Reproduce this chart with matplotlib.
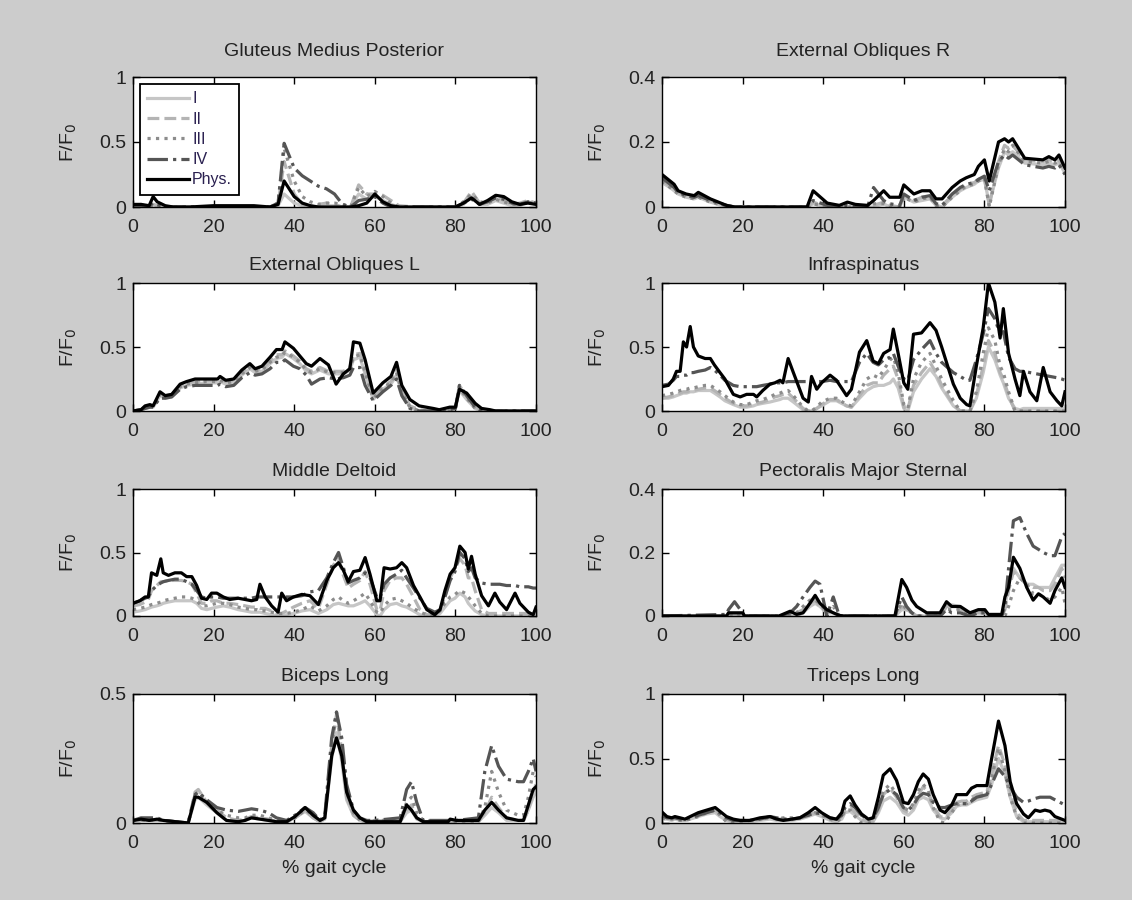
import matplotlib
matplotlib.use('Agg')
import matplotlib.pyplot as plt

plt.rcParams['font.family'] = ['Liberation Sans', 'DejaVu Sans']

# ---- Gluteus Medius Posterior ----
glut_x = [0, 2, 4, 5, 6, 8, 10, 14, 20, 24, 30, 34, 36, 37.5, 40, 42, 44, 46, 48, 50,
          52, 54, 56, 58, 60, 62, 64, 66, 70, 80, 82, 84, 86, 88, 90, 92, 94, 96, 98, 100]
glut_phys = [0.02, 0.02, 0.01, 0.08, 0.04, 0.01, 0, 0, 0.01, 0.01, 0.01, 0, 0.02, 0.2, 0.08, 0.03, 0.01, 0, 0, 0,
             0, 0, 0.01, 0.03, 0.1, 0.04, 0.01, 0, 0, 0, 0.03, 0.07, 0.02, 0.05, 0.09, 0.08, 0.04, 0.02, 0.03, 0.02]
glut_iv = [0.01, 0.01, 0.01, 0.03, 0.02, 0, 0, 0, 0, 0, 0, 0, 0.03, 0.49, 0.3, 0.24, 0.2, 0.16, 0.14, 0.1,
           0.02, 0, 0.05, 0.06, 0.08, 0.03, 0, 0, 0, 0, 0.03, 0.06, 0.02, 0.04, 0.07, 0.06, 0.03, 0.02, 0.04, 0.03]
glut_iii = [0.01, 0.01, 0, 0.02, 0.01, 0, 0, 0, 0, 0, 0, 0, 0.03, 0.45, 0.2, 0.08, 0.04, 0.02, 0.03, 0.03,
            0.02, 0, 0.15, 0.08, 0.12, 0.08, 0.03, 0, 0, 0, 0.04, 0.1, 0.04, 0.03, 0.06, 0.04, 0.02, 0.02, 0.04, 0.02]
glut_ii = [0.01, 0.02, 0, 0.02, 0.01, 0, 0, 0, 0, 0, 0, 0, 0.02, 0.35, 0.1, 0.02, 0, 0.02, 0.03, 0.02,
           0, 0, 0.17, 0.1, 0.1, 0.09, 0.05, 0.01, 0, 0, 0.03, 0.12, 0.03, 0.04, 0.08, 0.05, 0.02, 0.03, 0.05, 0.03]
glut_i = [0.01, 0.01, 0, 0.02, 0.01, 0, 0, 0, 0, 0, 0, 0, 0.01, 0.1, 0.03, 0.01, 0, 0, 0.01, 0.01,
          0, 0, 0.1, 0.06, 0.08, 0.05, 0.02, 0, 0, 0, 0.02, 0.08, 0.02, 0.02, 0.05, 0.03, 0.01, 0.01, 0.04, 0.02]

# ---- External Obliques R ----
eor_x = [0, 2, 3, 4, 6, 8, 9, 12, 16, 18, 36, 37.5, 41, 44, 46, 48, 51, 52.5, 55, 56.5,
         59, 60, 62.5, 64.5, 66.5, 68, 69.5, 72, 74, 75.5, 77.5, 78.5, 80, 81.2, 83.5, 85, 86, 87, 90, 94.5,
         96, 97.5, 98.5, 100]
eor_phys = [0.1, 0.08, 0.07, 0.05, 0.04, 0.035, 0.045, 0.025, 0.005, 0, 0, 0.05, 0.012, 0.005, 0.015, 0.008, 0.005, 0.02, 0.05, 0.03,
            0.03, 0.068, 0.04, 0.05, 0.05, 0.025, 0.025, 0.06, 0.08, 0.09, 0.1, 0.125, 0.145, 0.08, 0.2, 0.21, 0.2, 0.21, 0.15, 0.145,
            0.155, 0.145, 0.16, 0.12]
eor_iv = [0.09, 0.07, 0.06, 0.045, 0.035, 0.03, 0.035, 0.02, 0.005, 0, 0, 0.02, 0.005, 0, 0.005, 0, 0, 0.06, 0.02, 0.01,
          0.005, 0.04, 0.02, 0.03, 0.035, 0.01, 0.005, 0.04, 0.06, 0.07, 0.075, 0.085, 0.095, 0.05, 0.14, 0.16, 0.15, 0.16, 0.13, 0.12,
          0.125, 0.12, 0.13, 0.1]
eor_iii = [0.08, 0.06, 0.05, 0.04, 0.03, 0.025, 0.03, 0.015, 0.003, 0, 0, 0.01, 0, 0, 0, 0, 0, 0.01, 0.01, 0,
           0, 0.03, 0.015, 0.025, 0.03, 0.005, 0, 0.03, 0.05, 0.065, 0.07, 0.08, 0.09, 0, 0.13, 0.18, 0.17, 0.19, 0.14, 0.135,
           0.14, 0.135, 0.14, 0.11]
eor_ii = [0.08, 0.065, 0.055, 0.045, 0.035, 0.03, 0.035, 0.02, 0.005, 0, 0, 0.015, 0, 0, 0, 0, 0, 0.005, 0.015, 0.005,
          0, 0.035, 0.02, 0.03, 0.03, 0.01, 0.005, 0.035, 0.055, 0.07, 0.075, 0.085, 0.09, 0.005, 0.14, 0.19, 0.18, 0.19, 0.145, 0.14,
          0.145, 0.14, 0.145, 0.11]
eor_i = [0.075, 0.06, 0.05, 0.04, 0.03, 0.025, 0.03, 0.015, 0, 0, 0, 0.01, 0, 0, 0, 0, 0, 0, 0.01, 0,
         0, 0.03, 0.015, 0.02, 0.025, 0.005, 0, 0.03, 0.05, 0.06, 0.07, 0.08, 0.085, 0.01, 0.12, 0.17, 0.16, 0.17, 0.135, 0.13,
         0.135, 0.13, 0.135, 0.105]

# ---- External Obliques L ----
eol_x = [0, 2, 3, 4.2, 5, 6.7, 8, 9.6, 11.7, 13.3, 15.4, 18, 21, 21.6, 23, 25, 27, 29, 30.3, 32,
         34, 35.6, 37, 37.7, 39.8, 41.4, 43, 44.3, 46.4, 48.5, 50.4, 52.2, 53.8, 54.7, 56.3, 57.6, 59.6, 62, 64, 65.4,
         66.7, 68.7, 71, 74.5, 76, 78.6, 80, 81, 82.8, 84.9, 86.5, 88.6, 90, 100]
eol_phys = [0, 0.01, 0.04, 0.05, 0.04, 0.15, 0.12, 0.13, 0.21, 0.23, 0.25, 0.25, 0.25, 0.27, 0.24, 0.25, 0.32, 0.37, 0.33, 0.35,
            0.42, 0.48, 0.48, 0.54, 0.49, 0.43, 0.37, 0.35, 0.41, 0.36, 0.21, 0.29, 0.33, 0.54, 0.53, 0.4, 0.14, 0.22, 0.27, 0.38,
            0.2, 0.09, 0.04, 0.02, 0.01, 0.03, 0.03, 0.17, 0.14, 0.06, 0.02, 0.01, 0, 0]
eol_iv = [0, 0.01, 0.02, 0.03, 0.03, 0.1, 0.1, 0.11, 0.17, 0.19, 0.2, 0.2, 0.2, 0.21, 0.19, 0.2, 0.26, 0.3, 0.28, 0.29,
          0.33, 0.38, 0.38, 0.4, 0.35, 0.33, 0.28, 0.21, 0.25, 0.26, 0.25, 0.26, 0.28, 0.34, 0.34, 0.2, 0.08, 0.15, 0.2, 0.25,
          0.12, 0.02, 0, 0, 0, 0.01, 0.02, 0.2, 0.12, 0.03, 0, 0, 0, 0]
eol_iii = [0, 0.01, 0.03, 0.04, 0.03, 0.13, 0.11, 0.12, 0.19, 0.21, 0.22, 0.23, 0.23, 0.24, 0.22, 0.23, 0.29, 0.34, 0.31, 0.32,
           0.38, 0.42, 0.43, 0.46, 0.42, 0.38, 0.32, 0.3, 0.33, 0.3, 0.3, 0.3, 0.33, 0.42, 0.44, 0.3, 0.1, 0.18, 0.22, 0.3,
           0.15, 0.03, 0, 0, 0, 0.01, 0.02, 0.18, 0.1, 0.02, 0, 0, 0, 0]
eol_ii = [0, 0.01, 0.03, 0.04, 0.04, 0.13, 0.12, 0.13, 0.2, 0.22, 0.23, 0.24, 0.24, 0.25, 0.23, 0.24, 0.3, 0.35, 0.32, 0.33,
          0.39, 0.44, 0.44, 0.47, 0.43, 0.39, 0.33, 0.31, 0.34, 0.31, 0.31, 0.31, 0.34, 0.44, 0.45, 0.31, 0.11, 0.19, 0.23, 0.32,
          0.16, 0.04, 0.01, 0, 0, 0.01, 0.02, 0.2, 0.11, 0.03, 0.01, 0, 0, 0]
eol_i = [0, 0.01, 0.02, 0.03, 0.03, 0.12, 0.1, 0.11, 0.18, 0.2, 0.21, 0.22, 0.22, 0.23, 0.21, 0.22, 0.28, 0.33, 0.3, 0.31,
         0.37, 0.41, 0.42, 0.45, 0.41, 0.37, 0.31, 0.29, 0.32, 0.29, 0.29, 0.29, 0.32, 0.4, 0.42, 0.29, 0.09, 0.17, 0.21, 0.28,
         0.14, 0.03, 0, 0, 0, 0.01, 0.02, 0.16, 0.09, 0.02, 0, 0, 0, 0]

# ---- Infraspinatus ----
inf_x = [0, 1.6, 2.8, 3.6, 4.5, 5.3, 6.1, 7, 7.8, 9, 10.7, 12, 13, 14.4, 15.6, 17.7, 19.4, 21, 22.7, 23.5,
         25, 26.8, 28, 29.3, 30, 31.3, 32.6, 35, 36.3, 37.1, 38.4, 39.6, 41.7, 43.3, 45.8, 47, 49, 50.8, 52.4, 53.7,
         55, 56.6, 57.4, 58.6, 60, 61, 62.4, 64.4, 66.5, 68, 69.4, 72.3, 74, 75.6, 76.4, 78, 79.7, 81, 82.6, 83.9,
         84.7, 86, 87.6, 88.8, 89.7, 91.3, 93, 94.6, 96.3, 98, 99.2, 100]
inf_phys = [0.19, 0.2, 0.25, 0.31, 0.31, 0.54, 0.5, 0.66, 0.5, 0.43, 0.41, 0.41, 0.36, 0.3, 0.25, 0.13, 0.11, 0.13, 0.13, 0.11,
            0.16, 0.21, 0.22, 0.24, 0.22, 0.41, 0.3, 0.1, 0.07, 0.27, 0.17, 0.22, 0.28, 0.24, 0.12, 0.17, 0.46, 0.55, 0.39, 0.37,
            0.45, 0.48, 0.64, 0.45, 0.22, 0.17, 0.6, 0.61, 0.69, 0.63, 0.5, 0.21, 0.1, 0.05, 0.04, 0.35, 0.65, 1.0, 0.85, 0.57,
            0.8, 0.45, 0.25, 0.12, 0.31, 0.15, 0.08, 0.34, 0.15, 0.08, 0.04, 0.15]
inf_iv = [0.2, 0.21, 0.24, 0.27, 0.27, 0.28, 0.28, 0.3, 0.3, 0.31, 0.32, 0.34, 0.32, 0.28, 0.24, 0.2, 0.19, 0.19, 0.19, 0.19,
          0.2, 0.21, 0.22, 0.22, 0.22, 0.23, 0.23, 0.23, 0.23, 0.23, 0.23, 0.23, 0.24, 0.23, 0.23, 0.23, 0.38, 0.45, 0.38, 0.36,
          0.4, 0.42, 0.45, 0.35, 0.25, 0.24, 0.4, 0.48, 0.55, 0.45, 0.38, 0.3, 0.27, 0.24, 0.24, 0.4, 0.6, 0.8, 0.72, 0.6,
          0.62, 0.42, 0.33, 0.31, 0.31, 0.3, 0.29, 0.28, 0.27, 0.26, 0.25, 0.24]
inf_iii = [0.12, 0.13, 0.14, 0.15, 0.16, 0.17, 0.17, 0.18, 0.18, 0.19, 0.2, 0.2, 0.18, 0.15, 0.12, 0.07, 0.05, 0.05, 0.07, 0.08,
           0.09, 0.11, 0.13, 0.14, 0.15, 0.16, 0.12, 0.03, 0, 0, 0.03, 0.07, 0.1, 0.1, 0.05, 0.04, 0.15, 0.25, 0.28, 0.26,
           0.32, 0.4, 0.42, 0.3, 0.05, 0.02, 0.25, 0.38, 0.45, 0.35, 0.25, 0.08, 0, 0, 0, 0.15, 0.45, 0.65, 0.55, 0.35,
           0.3, 0.15, 0, 0, 0, 0, 0, 0, 0, 0, 0, 0]
inf_ii = [0.1, 0.11, 0.12, 0.13, 0.14, 0.15, 0.15, 0.16, 0.16, 0.17, 0.18, 0.18, 0.16, 0.13, 0.1, 0.06, 0.04, 0.04, 0.05, 0.06,
          0.07, 0.09, 0.11, 0.12, 0.13, 0.14, 0.1, 0.02, 0, 0, 0.02, 0.05, 0.09, 0.09, 0.04, 0.03, 0.12, 0.2, 0.22, 0.22,
          0.28, 0.33, 0.35, 0.25, 0.03, 0.01, 0.2, 0.3, 0.38, 0.3, 0.2, 0.05, 0, 0, 0, 0.12, 0.35, 0.55, 0.45, 0.3,
          0.25, 0.12, 0, 0, 0, 0, 0, 0, 0, 0, 0, 0]
inf_i = [0.1, 0.1, 0.11, 0.12, 0.13, 0.14, 0.14, 0.15, 0.15, 0.16, 0.16, 0.16, 0.14, 0.11, 0.08, 0.05, 0.03, 0.03, 0.04, 0.05,
         0.06, 0.07, 0.08, 0.09, 0.1, 0.1, 0.07, 0.01, 0, 0, 0.02, 0.04, 0.08, 0.08, 0.04, 0.03, 0.1, 0.16, 0.19, 0.2,
         0.2, 0.22, 0.25, 0.18, 0.02, 0, 0.15, 0.25, 0.33, 0.27, 0.18, 0.04, 0, 0, 0, 0.1, 0.3, 0.5, 0.4, 0.28,
         0.22, 0.1, 0.02, 0.01, 0.02, 0.02, 0.02, 0.02, 0.02, 0.02, 0.02, 0.02]

# ---- Middle Deltoid ----
mdel_x = [0, 1.7, 3, 3.8, 4.6, 5.9, 6.9, 7.5, 8.8, 10.4, 12, 13.3, 14.6, 15.8, 17, 18.3, 19.5, 20.8, 22.4, 24,
          26.1, 27.8, 29.4, 30.7, 31.5, 32.8, 34.4, 36, 36.9, 38.1, 39.8, 41.9, 43.9, 46, 48.1, 49.7, 51, 52.2, 53.4, 54.7,
          56.3, 57.6, 58.8, 60.5, 61.3, 62.3, 63.8, 65.4, 66.7, 67.9, 69.6, 71.2, 72.9, 74.9, 76.2, 77.4, 78.7, 79.9, 81.1, 82.4,
          83.2, 84, 84.9, 86.5, 88.2, 89.8, 91, 92.7, 94.8, 96, 98.1, 99.3, 100]
mdel_phys = [0.1, 0.12, 0.15, 0.15, 0.34, 0.32, 0.45, 0.34, 0.32, 0.34, 0.34, 0.31, 0.31, 0.24, 0.14, 0.13, 0.18, 0.18, 0.15, 0.13,
             0.14, 0.13, 0.12, 0.13, 0.25, 0.15, 0.08, 0.03, 0.18, 0.12, 0.15, 0.17, 0.16, 0.09, 0.28, 0.38, 0.42, 0.36, 0.27, 0.35,
             0.36, 0.46, 0.33, 0.12, 0.12, 0.38, 0.37, 0.38, 0.42, 0.38, 0.24, 0.15, 0.05, 0.01, 0.05, 0.2, 0.33, 0.38, 0.55, 0.5,
             0.37, 0.47, 0.33, 0.16, 0.08, 0.18, 0.11, 0.05, 0.18, 0.1, 0.03, 0.01, 0.07]
mdel_iv = [0.1, 0.12, 0.14, 0.15, 0.2, 0.24, 0.26, 0.27, 0.28, 0.29, 0.29, 0.27, 0.25, 0.2, 0.15, 0.14, 0.15, 0.15, 0.14, 0.14,
           0.14, 0.14, 0.14, 0.15, 0.15, 0.15, 0.15, 0.15, 0.15, 0.15, 0.15, 0.16, 0.19, 0.2, 0.3, 0.42, 0.5, 0.38, 0.26, 0.28,
           0.3, 0.34, 0.3, 0.15, 0.14, 0.25, 0.3, 0.33, 0.36, 0.3, 0.22, 0.14, 0.06, 0.03, 0.05, 0.15, 0.28, 0.35, 0.5, 0.45,
           0.35, 0.38, 0.3, 0.26, 0.25, 0.25, 0.25, 0.24, 0.24, 0.23, 0.23, 0.22, 0.22]
mdel_iii = [0.05, 0.06, 0.07, 0.08, 0.09, 0.1, 0.11, 0.12, 0.13, 0.14, 0.15, 0.15, 0.14, 0.12, 0.08, 0.08, 0.09, 0.1, 0.1, 0.09,
            0.07, 0.06, 0.05, 0.05, 0.04, 0.04, 0.03, 0.02, 0.02, 0.02, 0.03, 0.05, 0.08, 0.04, 0.08, 0.13, 0.15, 0.12, 0.1, 0.12,
            0.15, 0.18, 0.12, 0.03, 0.02, 0.08, 0.13, 0.14, 0.12, 0.1, 0.06, 0.03, 0.01, 0.01, 0.04, 0.1, 0.15, 0.17, 0.2, 0.18,
            0.15, 0.12, 0.08, 0.02, 0, 0, 0, 0, 0, 0, 0, 0, 0]
mdel_ii = [0.08, 0.09, 0.11, 0.13, 0.2, 0.24, 0.27, 0.27, 0.28, 0.28, 0.28, 0.27, 0.25, 0.18, 0.1, 0.1, 0.12, 0.12, 0.1, 0.1,
           0.09, 0.08, 0.07, 0.07, 0.06, 0.06, 0.04, 0.02, 0.02, 0.04, 0.07, 0.1, 0.12, 0.06, 0.25, 0.4, 0.45, 0.32, 0.22, 0.25,
           0.28, 0.35, 0.25, 0.05, 0.04, 0.2, 0.28, 0.3, 0.3, 0.25, 0.15, 0.05, 0.01, 0.01, 0.05, 0.15, 0.3, 0.38, 0.45, 0.4,
           0.3, 0.3, 0.2, 0.05, 0.02, 0.02, 0.02, 0.02, 0.02, 0.02, 0.02, 0.02, 0.02]
mdel_i = [0.03, 0.04, 0.05, 0.06, 0.07, 0.08, 0.09, 0.1, 0.11, 0.12, 0.12, 0.12, 0.12, 0.1, 0.06, 0.05, 0.06, 0.07, 0.08, 0.07,
          0.05, 0.04, 0.03, 0.03, 0.03, 0.02, 0.01, 0, 0, 0.01, 0.02, 0.04, 0.05, 0.02, 0.05, 0.09, 0.1, 0.09, 0.08, 0.08,
          0.1, 0.12, 0.08, 0.01, 0, 0.05, 0.09, 0.1, 0.08, 0.07, 0.04, 0.01, 0, 0, 0.02, 0.07, 0.12, 0.14, 0.18, 0.15,
          0.1, 0.07, 0.04, 0.01, 0, 0, 0, 0, 0, 0, 0, 0, 0]

# ---- Pectoralis Major Sternal ----
pec_x = [0, 16, 16.5, 18, 20, 20.5, 29, 31.8, 33.4, 35, 36.7, 38, 39.2, 40.9, 42.5, 44, 45, 57.8, 59.5, 60.7,
         62, 63.2, 65.7, 69, 70.6, 71.9, 74, 76.4, 78.5, 80.1, 81, 84.3, 85.1, 86, 87.2, 88.8, 90.5, 92.1, 93.4, 94.6,
         96.3, 97.5, 99.2, 100]
pec_phys = [0, 0, 0.01, 0.01, 0.01, 0, 0, 0.015, 0.005, 0.01, 0.04, 0.065, 0.04, 0.02, 0.01, 0.002, 0, 0, 0.115, 0.09,
            0.05, 0.03, 0.01, 0.01, 0.045, 0.03, 0.03, 0.01, 0.02, 0.02, 0.005, 0.005, 0.06, 0.09, 0.185, 0.15, 0.09, 0.05, 0.07, 0.06,
            0.04, 0.08, 0.12, 0.09]
pec_iv = [0, 0.005, 0.02, 0.045, 0.01, 0, 0, 0.01, 0.03, 0.06, 0.09, 0.11, 0.1, 0.0, 0.06, 0.0, 0, 0, 0.06, 0.03,
          0.01, 0, 0, 0, 0.02, 0.01, 0.01, 0, 0.01, 0.01, 0, 0, 0.03, 0.15, 0.3, 0.31, 0.26, 0.22, 0.21, 0.2,
          0.19, 0.19, 0.25, 0.26]
pec_iii = [0, 0, 0, 0.01, 0, 0, 0, 0.005, 0.01, 0.03, 0.05, 0.05, 0.04, 0.01, 0.03, 0, 0, 0, 0.04, 0.02,
           0.01, 0, 0, 0, 0.02, 0.02, 0.02, 0.005, 0.01, 0.01, 0, 0, 0, 0.03, 0.08, 0.12, 0.1, 0.07, 0.07, 0.06,
           0.05, 0.06, 0.09, 0.04]
pec_ii = [0, 0, 0, 0.005, 0, 0, 0, 0.005, 0.01, 0.02, 0.04, 0.05, 0.03, 0.01, 0.02, 0, 0, 0, 0.03, 0.02,
          0.01, 0, 0, 0, 0.03, 0.03, 0.02, 0.01, 0.01, 0.01, 0, 0, 0.02, 0.08, 0.14, 0.12, 0.1, 0.09, 0.09, 0.08,
          0.08, 0.1, 0.15, 0.12]
pec_i = [0, 0, 0, 0, 0, 0, 0, 0, 0, 0.01, 0.03, 0.04, 0.03, 0.01, 0.01, 0, 0, 0, 0.02, 0.02,
         0.01, 0, 0, 0, 0.03, 0.035, 0.03, 0.01, 0.01, 0.01, 0, 0, 0.03, 0.1, 0.15, 0.12, 0.1, 0.1, 0.09, 0.09,
         0.09, 0.12, 0.16, 0.16]

# ---- Biceps Long ----
bic_x = [0, 2, 4, 6, 7.5, 13.7, 15.4, 16.2, 18.3, 20.8, 23.2, 26.1, 27.8, 29.4, 31.5, 33.6, 35.6, 38.1, 40.2, 42.7,
         44.7, 46.4, 47.6, 49.3, 50.5, 51.8, 53, 54.7, 56.3, 58, 60, 66.3, 67.9, 69.1, 70.4, 72, 78.2, 78.7, 80.3, 85.7,
         87.3, 89, 90.7, 92.7, 95.6, 96.9, 98.1, 99.3, 100]
bic_phys = [0.01, 0.015, 0.01, 0.015, 0.01, 0, 0.1, 0.1, 0.08, 0.04, 0.01, 0.005, 0.01, 0.02, 0.015, 0.01, 0.005, 0.005, 0.025, 0.06,
            0.03, 0.01, 0.02, 0.26, 0.33, 0.26, 0.12, 0.05, 0.02, 0.005, 0.005, 0.005, 0.07, 0.05, 0.02, 0.005, 0.005, 0.015, 0.01, 0.01,
            0.05, 0.08, 0.05, 0.02, 0.01, 0.01, 0.07, 0.13, 0.14]
bic_iv = [0.01, 0.02, 0.02, 0.02, 0.01, 0, 0.11, 0.12, 0.09, 0.06, 0.05, 0.045, 0.05, 0.055, 0.05, 0.04, 0.02, 0.01, 0.03, 0.06,
          0.04, 0.01, 0.03, 0.33, 0.43, 0.33, 0.15, 0.05, 0.02, 0.01, 0.01, 0.02, 0.13, 0.16, 0.08, 0.01, 0.01, 0.01, 0.01, 0.02,
          0.2, 0.3, 0.22, 0.17, 0.16, 0.16, 0.2, 0.25, 0.2]
bic_iii = [0.01, 0.01, 0.01, 0.01, 0.01, 0, 0.11, 0.12, 0.08, 0.05, 0.03, 0.02, 0.02, 0.03, 0.03, 0.02, 0.01, 0.005, 0.02, 0.05,
           0.03, 0.01, 0.02, 0.3, 0.43, 0.3, 0.12, 0.04, 0.01, 0.005, 0.01, 0.01, 0.08, 0.1, 0.04, 0.01, 0.005, 0.005, 0.005, 0.005,
           0.06, 0.2, 0.12, 0.05, 0.03, 0.03, 0.1, 0.2, 0.18]
bic_ii = [0.01, 0.01, 0.01, 0.01, 0.01, 0, 0.12, 0.13, 0.08, 0.05, 0.02, 0.01, 0.015, 0.025, 0.02, 0.015, 0.005, 0.005, 0.02, 0.05,
          0.02, 0.005, 0.02, 0.3, 0.42, 0.28, 0.1, 0.03, 0.01, 0.005, 0.01, 0.005, 0.05, 0.07, 0.02, 0.005, 0.005, 0.005, 0.005, 0.005,
          0.04, 0.1, 0.06, 0.02, 0.01, 0.01, 0.05, 0.12, 0.15]
bic_i = [0.01, 0.01, 0.01, 0.01, 0.01, 0, 0.09, 0.1, 0.07, 0.04, 0.01, 0.005, 0.01, 0.02, 0.015, 0.01, 0.005, 0.005, 0.02, 0.045,
         0.02, 0.005, 0.015, 0.25, 0.35, 0.24, 0.09, 0.03, 0.01, 0.005, 0.005, 0.005, 0.04, 0.05, 0.015, 0.005, 0.005, 0.005, 0.005, 0.005,
         0.03, 0.06, 0.04, 0.01, 0.01, 0.01, 0.05, 0.1, 0.12]

# ---- Triceps Long ----
tri_x = [0, 1.2, 2.4, 3.2, 4.5, 5.7, 7, 9, 11.1, 13.2, 14.4, 16, 17.7, 19.4, 21.8, 24.3, 26.8, 28.5, 30.1, 32.2,
         34.2, 36.3, 38, 39.6, 41.7, 43.3, 44.6, 45.4, 46.7, 47.9, 49.5, 51.2, 52.4, 53.7, 54.9, 56.6, 58.2, 59.9, 61.1, 62.4,
         63.6, 64.8, 66.1, 67.3, 69, 70.2, 71.9, 73.1, 74.4, 75.6, 76.8, 78.1, 80.6, 81.8, 83.5, 85.1, 86.4, 88, 89.7, 90.9,
         92.6, 93.8, 95, 96.3, 97.5, 100]
tri_phys = [0.085, 0.05, 0.04, 0.05, 0.04, 0.03, 0.05, 0.08, 0.1, 0.12, 0.09, 0.05, 0.03, 0.02, 0.02, 0.04, 0.05, 0.03, 0.02, 0.03,
            0.04, 0.08, 0.12, 0.08, 0.04, 0.03, 0.08, 0.17, 0.21, 0.14, 0.07, 0.03, 0.04, 0.2, 0.37, 0.42, 0.33, 0.16, 0.15, 0.22,
            0.32, 0.38, 0.34, 0.22, 0.1, 0.08, 0.14, 0.22, 0.22, 0.22, 0.27, 0.29, 0.29, 0.5, 0.79, 0.6, 0.32, 0.15, 0.07, 0.04,
            0.1, 0.09, 0.1, 0.09, 0.05, 0.02]
tri_iv = [0.06, 0.04, 0.04, 0.04, 0.03, 0.03, 0.04, 0.06, 0.08, 0.1, 0.08, 0.04, 0.02, 0.02, 0.02, 0.03, 0.05, 0.04, 0.03, 0.03,
          0.04, 0.06, 0.08, 0.07, 0.04, 0.03, 0.06, 0.12, 0.15, 0.12, 0.06, 0.03, 0.04, 0.12, 0.22, 0.26, 0.22, 0.12, 0.1, 0.14,
          0.2, 0.23, 0.22, 0.16, 0.12, 0.12, 0.14, 0.15, 0.15, 0.15, 0.17, 0.2, 0.22, 0.3, 0.42, 0.36, 0.28, 0.2, 0.16, 0.17,
          0.19, 0.2, 0.2, 0.2, 0.18, 0.14]
tri_iii = [0.04, 0.03, 0.03, 0.03, 0.02, 0.02, 0.03, 0.05, 0.08, 0.1, 0.06, 0.01, 0, 0.01, 0.02, 0.03, 0.04, 0.03, 0.04, 0.04,
           0.04, 0.06, 0.08, 0.06, 0.03, 0.01, 0.04, 0.1, 0.1, 0.05, 0, 0, 0.01, 0.12, 0.25, 0.3, 0.22, 0.12, 0.1, 0.15,
           0.25, 0.3, 0.25, 0.12, 0.01, 0, 0.08, 0.14, 0.15, 0.15, 0.18, 0.2, 0.22, 0.35, 0.58, 0.4, 0.2, 0.05, 0, 0,
           0, 0, 0, 0, 0, 0]
tri_ii = [0.05, 0.04, 0.03, 0.04, 0.03, 0.02, 0.04, 0.06, 0.08, 0.1, 0.07, 0.03, 0.01, 0.01, 0.02, 0.03, 0.04, 0.03, 0.03, 0.03,
          0.04, 0.06, 0.08, 0.06, 0.03, 0.02, 0.05, 0.1, 0.12, 0.08, 0.03, 0.01, 0.02, 0.1, 0.22, 0.27, 0.2, 0.1, 0.08, 0.12,
          0.22, 0.28, 0.24, 0.13, 0.05, 0.04, 0.1, 0.16, 0.17, 0.17, 0.2, 0.22, 0.24, 0.38, 0.6, 0.45, 0.25, 0.08, 0.02, 0.02,
          0.02, 0.02, 0.02, 0.02, 0.02, 0.02]
tri_i = [0.03, 0.03, 0.02, 0.03, 0.02, 0.02, 0.03, 0.05, 0.07, 0.08, 0.05, 0.02, 0.01, 0.01, 0.01, 0.02, 0.03, 0.02, 0.02, 0.02,
         0.03, 0.05, 0.07, 0.05, 0.02, 0.01, 0.03, 0.08, 0.09, 0.06, 0.02, 0.01, 0.01, 0.08, 0.17, 0.2, 0.16, 0.08, 0.06, 0.1,
         0.18, 0.2, 0.18, 0.1, 0.04, 0.03, 0.08, 0.13, 0.14, 0.14, 0.16, 0.18, 0.2, 0.3, 0.5, 0.38, 0.2, 0.05, 0.01, 0.01,
         0.01, 0.01, 0.01, 0.01, 0.01, 0.01]

labels = ['I', 'II', 'III', 'IV', 'Phys.']
colors = ['#c6c6c6', '#b4b4b4', '#8c8c8c', '#555555', 'black']
styles = ['-', '--', ':', '-.', '-']
widths = [2.3, 2.3, 2.3, 2.3, 2.3]

panels = [
    ('Gluteus Medius Posterior', glut_x, [glut_i, glut_ii, glut_iii, glut_iv, glut_phys], 1, [0, 0.5, 1]),
    ('External Obliques R', eor_x, [eor_i, eor_ii, eor_iii, eor_iv, eor_phys], 0.4, [0, 0.2, 0.4]),
    ('External Obliques L', eol_x, [eol_i, eol_ii, eol_iii, eol_iv, eol_phys], 1, [0, 0.5, 1]),
    ('Infraspinatus', inf_x, [inf_i, inf_ii, inf_iii, inf_iv, inf_phys], 1, [0, 0.5, 1]),
    ('Middle Deltoid', mdel_x, [mdel_i, mdel_ii, mdel_iii, mdel_iv, mdel_phys], 1, [0, 0.5, 1]),
    ('Pectoralis Major Sternal', pec_x, [pec_i, pec_ii, pec_iii, pec_iv, pec_phys], 0.4, [0, 0.2, 0.4]),
    ('Biceps Long', bic_x, [bic_i, bic_ii, bic_iii, bic_iv, bic_phys], 0.5, [0, 0.5]),
    ('Triceps Long', tri_x, [tri_i, tri_ii, tri_iii, tri_iv, tri_phys], 1, [0, 0.5, 1]),
]

text_col = '#222222'
fig = plt.figure(figsize=(11.32, 9), dpi=100, facecolor='#cccccc')

col_left = [133 / 1132, 662 / 1132]
col_w = 403 / 1132
rows_px = [(77, 207), (283, 411), (489, 616), (694, 823)]

for k, (title, x, series, ymax, yt) in enumerate(panels):
    r, c = divmod(k, 2)
    top, bot = rows_px[r]
    ax = fig.add_axes([col_left[c], 1 - bot / 900, col_w, (bot - top) / 900])
    for y, lab, col, ls, lw in zip(series, labels, colors, styles, widths):
        ax.plot(x, y, color=col, linestyle=ls, linewidth=lw, label=lab)
    ax.set_xlim(0, 100)
    ax.set_ylim(0, ymax)
    ax.set_xticks([0, 20, 40, 60, 80, 100])
    ax.set_yticks(yt)
    ax.set_yticklabels([f'{v:g}' for v in yt])
    ax.tick_params(direction='in', top=True, right=True, labelsize=14, length=5, width=1,
                   labelcolor=text_col)
    ax.tick_params(axis='x', pad=8.5)
    ax.tick_params(axis='y', pad=5)
    for s in ax.spines.values():
        s.set_linewidth(1.0)
    ax.set_title(title, fontsize=14, pad=(15 if r == 0 else 9.5), color=text_col)
    ax.set_ylabel('F/F$_0$', fontsize=14, labelpad=14, color=text_col)
    if r == 3:
        ax.set_xlabel('% gait cycle', fontsize=14, labelpad=6, color=text_col)
    if k == 0:
        leg = ax.legend(loc='upper left', fontsize=11.5, fancybox=False, framealpha=1,
                        edgecolor='black', handlelength=2.6, borderpad=0.45,
                        labelspacing=0.33, borderaxespad=0.45, handletextpad=0.2)
        leg.get_frame().set_linewidth(1.3)
        for t in leg.get_texts():
            t.set_color('#2a2050')

fig.savefig('out.png', dpi=100, facecolor=fig.get_facecolor())
